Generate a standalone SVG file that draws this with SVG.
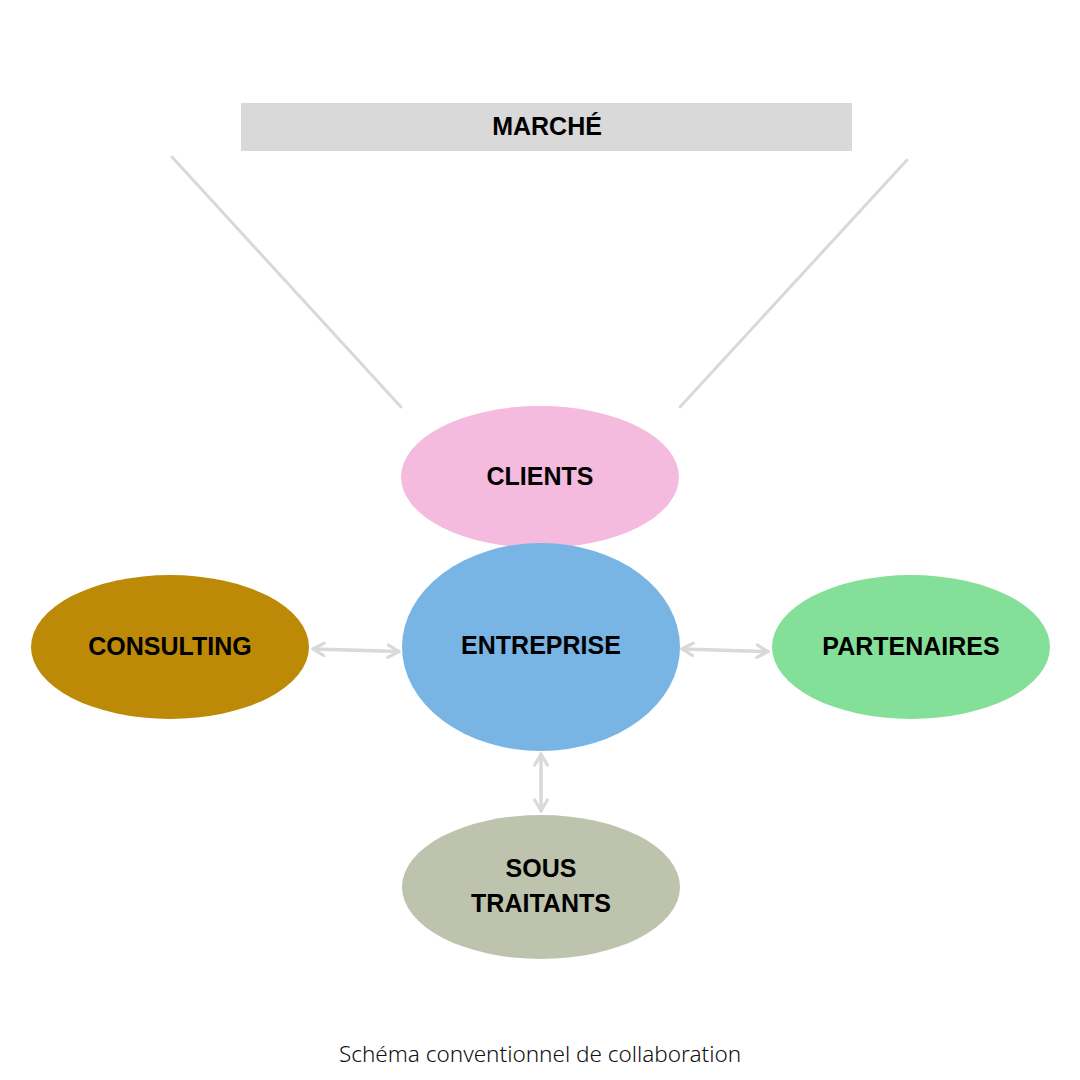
<svg xmlns="http://www.w3.org/2000/svg" width="1080" height="1080" viewBox="0 0 1080 1080">
<style>
.lbl{font-family:"Liberation Sans",Arial,sans-serif;font-weight:bold;font-size:25px;fill:#000;text-anchor:middle}
.conn{stroke:#d9d9d9;stroke-width:3;fill:none;stroke-linecap:round}
.arr{stroke:#d9d9d9;stroke-width:3.5;fill:none;stroke-linecap:round}
.cap{font-family:"Noto Sans","Open Sans",sans-serif;font-weight:300;font-size:22.5px;fill:#111;text-anchor:middle}
</style>
<defs>
<marker id="ah" viewBox="0 0 10 10" refX="8" refY="5" markerWidth="4.5" markerHeight="4.5" orient="auto-start-reverse" markerUnits="strokeWidth">
<path d="M1,1 L8,5 L1,9" fill="none" stroke="#d9d9d9" stroke-width="2" stroke-linecap="round" stroke-linejoin="round"/>
</marker>
</defs>
<rect width="1080" height="1080" fill="#fff"/>
<g id="connectors">
<line class="conn" x1="172" y1="157" x2="401" y2="407"/>
<line class="conn" x1="907" y1="160" x2="680" y2="407"/>
<line class="arr" x1="313" y1="649" x2="399" y2="651.5" marker-start="url(#ah)" marker-end="url(#ah)"/>
<line class="arr" x1="682" y1="649" x2="768" y2="651.5" marker-start="url(#ah)" marker-end="url(#ah)"/>
<line class="arr" x1="541" y1="754" x2="541" y2="811" marker-start="url(#ah)" marker-end="url(#ah)"/>
</g>
<g id="marche">
<rect x="241" y="103" width="611" height="48" fill="#d9d9d9"/>
<text class="lbl" x="547" y="135">MARCHÉ</text>
</g>
<g id="clients">
<ellipse cx="540" cy="477" rx="139" ry="71" fill="#f4bbde"/>
<text class="lbl" x="540" y="485">CLIENTS</text>
</g>
<g id="entreprise">
<ellipse cx="541" cy="647" rx="139" ry="104" fill="#79b5e4"/>
<text class="lbl" x="541" y="654">ENTREPRISE</text>
</g>
<g id="consulting">
<ellipse cx="170" cy="647" rx="139" ry="72" fill="#bd8a08"/>
<text class="lbl" x="170" y="655">CONSULTING</text>
</g>
<g id="partenaires">
<ellipse cx="911" cy="647" rx="139" ry="72" fill="#84df98"/>
<text class="lbl" x="911" y="655">PARTENAIRES</text>
</g>
<g id="sous-traitants">
<ellipse cx="541" cy="887" rx="139" ry="72" fill="#bec3ad"/>
<text class="lbl" x="541" y="877">SOUS</text>
<text class="lbl" x="541" y="912">TRAITANTS</text>
</g>
<text class="cap" x="540" y="1062">Schéma conventionnel de collaboration</text>
</svg>
